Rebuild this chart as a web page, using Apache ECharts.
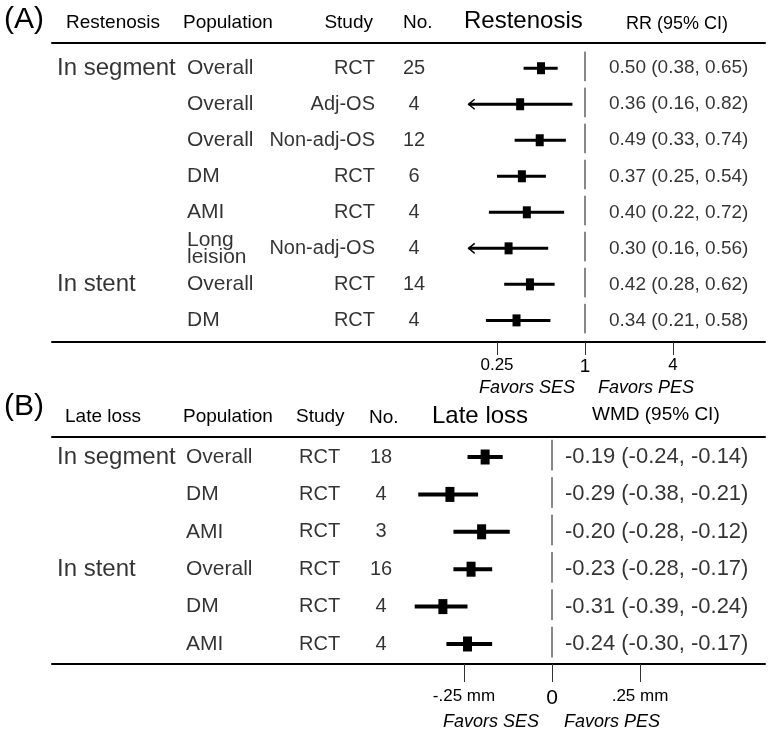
<!DOCTYPE html>
<html><head><meta charset="utf-8">
<script src="https://cdn.jsdelivr.net/npm/echarts@6/dist/echarts.min.js"></script>
<style>html,body{margin:0;padding:0;background:#fff}#c{width:769px;height:735px}</style>
</head><body><div id="c"></div>
<script>
// ---------- Panel A data (Restenosis, RR) ----------
const groupA = ['In segment','','','','','','In stent',''];
const popA = ['Overall','Overall','Overall','DM','AMI','Long\nleision','Overall','DM'];
const studyA = ['RCT','Adj-OS','Non-adj-OS','RCT','RCT','Non-adj-OS','RCT','RCT'];
const nA = [25,4,12,6,4,4,14,4];
const rrEst = [0.50,0.36,0.49,0.37,0.40,0.30,0.42,0.34];
const rrLo  = [0.38,0.16,0.33,0.25,0.22,0.16,0.28,0.21];
const rrHi  = [0.65,0.82,0.74,0.54,0.72,0.56,0.62,0.58];
const rrTicks = [0.25, 1, 4];
const rrArrowAt = 0.16;   // CI truncated at this bound -> arrow
// ---------- Panel B data (Late loss, WMD) ----------
const groupB = ['In segment','','','In stent','',''];
const popB = ['Overall','DM','AMI','Overall','DM','AMI'];
const studyB = ['RCT','RCT','RCT','RCT','RCT','RCT'];
const nB = [18,4,3,16,4,4];
const wmdEst = [-0.19,-0.29,-0.20,-0.23,-0.31,-0.24];
const wmdLo  = [-0.24,-0.38,-0.28,-0.28,-0.39,-0.30];
const wmdHi  = [-0.14,-0.21,-0.12,-0.17,-0.24,-0.17];
const wmdTicks = [-0.25, 0, 0.25];

const FONT = '"Liberation Sans", Arial, Helvetica, sans-serif';
const INK = '#000';
const f2 = v => v.toFixed(2);

const chart = echarts.init(document.getElementById('c'), null, {renderer:'canvas'});

function forestRender(refVal, lw, sqW, sqH) {
  return function (params, api) {
    const i = api.value(0);
    const c = api.coord([api.value(1), i]);
    const lo = api.coord([api.value(2), i]);
    const hi = api.coord([api.value(3), i]);
    const ref = api.coord([refVal, i]);
    const rowH = api.size([0, 1])[1];
    const y = c[1];
    const kids = [
      {type:'line', shape:{x1:ref[0], y1:y - rowH*0.46, x2:ref[0], y2:y + rowH*0.36}, style:{stroke:'#111', lineWidth:1}},
      {type:'line', shape:{x1:lo[0], y1:y, x2:hi[0], y2:y}, style:{stroke:'#000', lineWidth:lw}},
      {type:'rect', shape:{x:c[0]-sqW/2, y:y-sqH/2, width:sqW, height:sqH}, style:{fill:'#000'}}
    ];
    if (api.value(4) === 1) {
      kids.push({type:'polyline', shape:{points:[[lo[0]+6, y-5],[lo[0], y],[lo[0]+6, y+5]]}, style:{stroke:'#000', fill:null, lineWidth:1.5}});
    }
    return {type:'group', children:kids};
  };
}

function textSeries(xAxisIndex, yAxisIndex, x, texts, pos, size, extra) {
  return {
    type:'scatter', xAxisIndex, yAxisIndex, silent:true, symbolSize:0, clip:false,
    data: texts.map((t, i) => ({value:[x, i], label:{formatter: String(t)}})),
    label: Object.assign({show:true, position:pos, distance:0, color:INK, fontFamily:FONT, fontSize:size}, extra || {}),
    z: 5
  };
}

const log2 = Math.log2;
const dataA = rrEst.map((e, i) => [i, log2(e), log2(rrLo[i]), log2(rrHi[i]), rrLo[i] <= rrArrowAt ? 1 : 0]);
const dataB = wmdEst.map((e, i) => [i, e, wmdLo[i], wmdHi[i], 0]);
const rrText = rrEst.map((e, i) => `${f2(e)} (${f2(rrLo[i])}, ${f2(rrHi[i])})`);
const wmdText = wmdEst.map((e, i) => `${f2(e)} (${f2(wmdLo[i])}, ${f2(wmdHi[i])})`);

const axisLineStyle = {color:'#000', width:2};
const option = {
  animation:false,
  backgroundColor:'#fff',
  grid:[
    {left:52, width:713, top:43, height:299},
    {left:52, width:713, top:437, height:227}
  ],
  xAxis:[
    { gridIndex:0, type:'value', min:-12.114, max:4.091, position:'bottom',
      axisLine:{show:true, onZero:false, lineStyle:axisLineStyle},
      axisTick:{show:true, length:13, customValues: rrTicks.map(log2), lineStyle:{color:'#333', width:1}},
      axisLabel:{show:true, margin:15, customValues: rrTicks.map(log2), color:INK, fontFamily:FONT, fontSize:17,
        formatter: v => { const r = +Math.pow(2, v).toFixed(2); return r === 1 ? '{b|1}' : '{a|' + r + '}'; },
        rich:{a:{fontSize:17, fontFamily:FONT, color:INK}, b:{fontSize:19, fontFamily:FONT, color:INK}}},
      splitLine:{show:false} },
    { gridIndex:0, type:'value', min:0, max:1, position:'top',
      axisLine:{show:true, onZero:false, lineStyle:axisLineStyle}, axisTick:{show:false}, axisLabel:{show:false}, splitLine:{show:false} },
    { gridIndex:0, type:'value', min:52, max:765, show:false },
    { gridIndex:1, type:'value', min:-1.4205, max:0.6051, position:'bottom',
      axisLine:{show:true, onZero:false, lineStyle:axisLineStyle},
      axisTick:{show:true, length:18, customValues: wmdTicks, lineStyle:{color:'#333', width:1}},
      axisLabel:{show:true, margin:24, customValues: wmdTicks, color:INK, fontFamily:FONT, fontSize:17,
        formatter: v => v === 0 ? '{b|0}' : '{a|' + (v < 0 ? '-' : '') + String(Math.abs(v)).replace(/^0/, '') + ' mm}',
        rich:{a:{fontSize:17, fontFamily:FONT, color:INK}, b:{fontSize:21, fontFamily:FONT, color:INK}}},
      splitLine:{show:false} },
    { gridIndex:1, type:'value', min:0, max:1, position:'top',
      axisLine:{show:true, onZero:false, lineStyle:axisLineStyle}, axisTick:{show:false}, axisLabel:{show:false}, splitLine:{show:false} },
    { gridIndex:1, type:'value', min:52, max:765, show:false }
  ],
  yAxis:[
    { gridIndex:0, type:'value', min:-0.7, max:7.6, inverse:true, show:false },
    { gridIndex:1, type:'value', min:-0.535, max:5.535, inverse:true, show:false }
  ],
  series:[
    { type:'custom', xAxisIndex:0, yAxisIndex:0, data:dataA, renderItem:forestRender(0, 3, 8, 12), encode:{x:[1,2,3], y:0}, silent:true },
    { type:'custom', xAxisIndex:3, yAxisIndex:1, data:dataB, renderItem:forestRender(0, 4, 9, 15), encode:{x:[1,2,3], y:0}, silent:true },
    textSeries(2, 0, 57, groupA, 'right', 24),
    textSeries(2, 0, 187, popA, 'right', 21, {lineHeight:17}),
    textSeries(2, 0, 375, studyA, 'left', 20),
    textSeries(2, 0, 414, nA, 'inside', 20),
    textSeries(2, 0, 609, rrText, 'right', 19),
    textSeries(5, 1, 57, groupB, 'right', 24),
    textSeries(5, 1, 186, popB, 'right', 21),
    textSeries(5, 1, 299, studyB, 'right', 20),
    textSeries(5, 1, 381, nB, 'inside', 20),
    textSeries(5, 1, 565, wmdText, 'right', 22)
  ],
  graphic:[]
};

function T(text, x, y, size, align, extra) {
  return {type:'text', x, y, silent:true,
    style:{text, fill:INK, font: (extra && extra.italic ? 'italic ' : '') + size + 'px ' + FONT, textAlign:align, textVerticalAlign:'middle'}};
}
option.graphic = [
  T('(A)', 4, 20, 30, 'left'),
  T('Restenosis', 66, 23, 19, 'left'),
  T('Population', 183, 23, 19, 'left'),
  T('Study', 373, 23, 19, 'right'),
  T('No.', 403, 23, 19, 'left'),
  T('Restenosis', 464, 21, 24, 'left'),
  T('RR (95% CI)', 626, 24, 18, 'left'),
  T('Favors SES', 527, 388, 18, 'center', {italic:true}),
  T('Favors PES', 646, 388, 18, 'center', {italic:true}),
  T('(B)', 4, 407, 30, 'left'),
  T('Late loss', 65, 417, 19, 'left'),
  T('Population', 183, 417, 19, 'left'),
  T('Study', 296, 417, 19, 'left'),
  T('No.', 369, 418, 19, 'left'),
  T('Late loss', 432, 416, 24, 'left'),
  T('WMD (95% CI)', 592, 415, 19, 'left'),
  T('Favors SES', 491, 722, 18, 'center', {italic:true}),
  T('Favors PES', 612, 722, 18, 'center', {italic:true})
];
chart.setOption(option);
</script>
</body></html>
